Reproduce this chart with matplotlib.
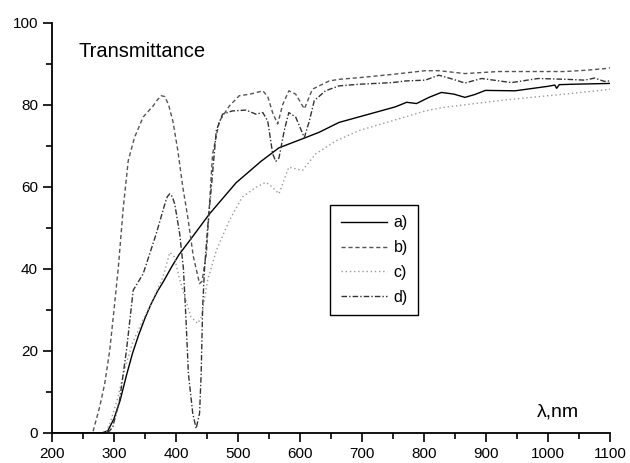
import matplotlib
matplotlib.use("Agg")
import matplotlib.pyplot as plt
from matplotlib.ticker import MultipleLocator

plt.rcParams["font.family"] = ["Liberation Sans", "DejaVu Sans"]

# a) solid
a_x = [200, 280, 290, 300, 310, 320, 330, 340, 350, 360, 370, 380, 393, 405, 425, 454, 497, 537, 566,
       609, 631, 663, 711, 754, 772, 788, 808, 828, 848, 866, 882, 899, 947, 1000, 1011, 1014, 1018,
       1040, 1070, 1100]
a_y = [0, 0, 0.5, 3.5, 8, 14, 19.5, 24, 28, 31.5, 34.5, 37, 40.5, 43.5, 47.5, 53.4, 61, 66.2, 69.5,
       72, 73.3, 75.7, 77.7, 79.5, 80.6, 80.3, 81.8, 83, 82.6, 81.8, 82.5, 83.5, 83.4, 84.5, 84.8, 84.0,
       84.9, 85, 85.1, 85.2]

# b) dashed
b_x = [200, 260, 266, 277, 285, 293, 300, 307, 315, 323, 333, 347, 363, 370, 376, 382, 388, 395,
       403, 411, 419, 428, 438, 442, 449, 459, 470, 486, 502, 520, 540, 548, 556, 564, 572, 582,
       593, 607, 620, 647, 663, 695, 749, 802, 824, 866, 920, 1027, 1060, 1091, 1100]
b_y = [0, 0, 0.3, 6.4, 12, 20, 30, 40.4, 55, 66.4, 72, 77, 79.7, 81.2, 82.2, 82, 80, 76,
       68.8, 59.9, 52.6, 43, 36.4, 37, 43.7, 68, 76, 79.7, 82.2, 82.6, 83.4, 82, 78, 75.3, 80, 83.4,
       82.6, 79, 83.8, 85.8, 86.2, 86.6, 87.4, 88.3, 88.3, 87.6, 88.1, 88.1, 88.4, 88.8, 89]

# c) dotted
c_x = [200, 280, 288, 295, 305, 318, 330, 345, 358, 379, 390, 397, 405, 411, 424, 435, 441, 451,
       465, 486, 507, 529, 545, 555, 566, 575, 582, 604, 625, 658, 695, 749, 802, 829, 920, 1027,
       1091, 1100]
c_y = [0, 0, 0.5, 3, 8, 16, 22, 27, 31, 38, 44, 43, 38, 34.8, 28.3, 26.7, 28.3, 37.2,
       44.5, 51.8, 57.5, 59.9, 61.1, 60, 58.3, 62, 64.8, 64, 68, 71.2, 73.7, 76.1, 78.5, 79.3, 81, 82.6,
       83.6, 83.8]

# d) dash-dot
d_x = [200, 285, 293, 298, 309, 320, 331, 347, 368, 382, 386, 390, 394, 398, 406, 412, 416, 420, 427,
       432.5, 438, 440.6, 443, 446, 451, 457, 465, 475, 491, 513, 529, 540, 548, 556, 561, 566, 575,
       582, 593, 607, 615, 623, 641, 663, 695, 749, 770, 802, 824, 845, 866, 893, 941, 984, 1030,
       1059, 1075, 1091, 1100]
d_y = [0, 0, 0.5, 1.5, 8, 20, 34.8, 38.8, 48.5, 55.8, 57.6, 58.3, 57.6, 55.8, 48.5, 40, 28, 14.5, 4.8,
       1.1, 4.8, 14.5, 30.7, 40, 50, 59.9, 73.7, 77.7, 78.5, 78.7, 77.7, 78.1, 76, 68, 66.2, 67, 74,
       78.1, 77, 72, 76, 81, 83.4, 84.6, 85, 85.4, 85.8, 86, 87.2, 86.3, 85.3, 86.4, 85.4, 86.4, 86.2,
       86, 86.5, 85.7, 85.8]

fig = plt.figure(figsize=(6.3, 4.63), dpi=100)
ax = fig.add_axes([52 / 630, 30 / 463, 558 / 630, 410.3 / 463])

ax.plot(a_x, a_y, color="black", linewidth=1.0, label="a)")
ax.plot(b_x, b_y, color="#555555", linewidth=1.0, dashes=(3, 2), label="b)")
ax.plot(c_x, c_y, color="#9a9a9a", linewidth=1.0, dashes=(1, 2), label="c)")
ax.plot(d_x, d_y, color="#333333", linewidth=1.0, dashes=(4, 1.5, 1, 1.5), label="d)")

ax.set_xlim(200, 1100)
ax.set_ylim(0, 100)
ax.xaxis.set_major_locator(MultipleLocator(100))
ax.xaxis.set_minor_locator(MultipleLocator(50))
ax.yaxis.set_major_locator(MultipleLocator(20))
ax.yaxis.set_minor_locator(MultipleLocator(10))
ax.tick_params(which="both", direction="out", width=1.2, labelsize=11, colors="black")
ax.tick_params(which="major", length=6.5)
ax.tick_params(which="minor", length=4)

for side in ("top", "right"):
    ax.spines[side].set_visible(False)
for side in ("left", "bottom"):
    ax.spines[side].set_linewidth(1.3)

ax.text(0.047, 0.93, "Transmittance", transform=ax.transAxes, fontsize=14.5, va="center", ha="left")
ax.text(0.869, 0.05, "λ,nm", transform=ax.transAxes, fontsize=14, va="center", ha="left")

leg = ax.legend(loc="upper left", bbox_to_anchor=(0.499, 0.556), borderaxespad=0, fontsize=11.5,
                handlelength=2.9, handletextpad=0.4, labelspacing=0.62, fancybox=False,
                edgecolor="black", framealpha=1, borderpad=0.65)
leg.get_frame().set_linewidth(1.0)

fig.savefig("out.png", dpi=100)
